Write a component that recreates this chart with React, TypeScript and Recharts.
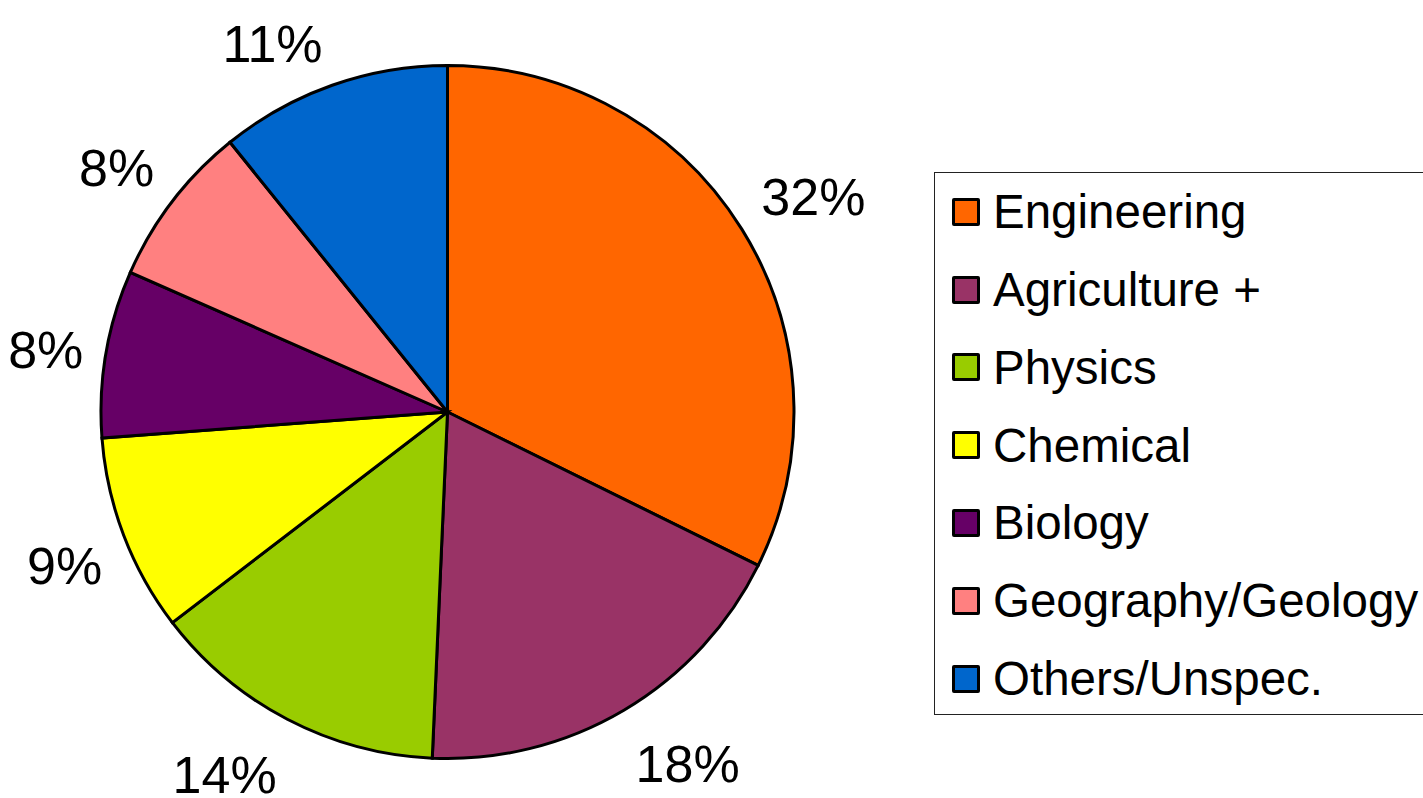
import React from "react";
import { PieChart, Pie, Cell, Legend } from "recharts";

const categories = [
  "Engineering",
  "Agriculture +",
  "Physics",
  "Chemical",
  "Biology",
  "Geography/Geology",
  "Others/Unspec.",
];
const shares = [32.3, 18.4, 13.9, 9.2, 7.8, 7.6, 10.8];
const colors = ["#FF6600", "#993366", "#99CC00", "#FFFF00", "#660066", "#FF8080", "#0066CC"];

const data = categories.map((name, i) => ({ name, value: shares[i], fill: colors[i] }));

const FONT = "'Liberation Sans', Arial, Helvetica, sans-serif";
const LABEL_SIZE = 52;
const RAD = Math.PI / 180;

// Outside labels aligned like an office-suite pie: the anchor point on the
// mid ray touches the text box corner facing the pie.
const renderLabel = (props: any) => {
  const { cx, cy, midAngle, outerRadius, percent } = props;
  const text = `${Math.round(percent * 100)}%`;
  const digits = text.length - 1;
  const w = LABEL_SIZE * (0.556 * digits + 0.889);
  const h = LABEL_SIZE * 0.75;
  const r = outerRadius + 23;
  const c = Math.cos(midAngle * RAD);
  const s = Math.sin(midAngle * RAD);
  const ax = cx + r * c;
  const ay = cy - r * s;
  const sx = Math.abs(c) < 0.2 ? 0 : Math.sign(c);
  const sy = Math.abs(s) < 0.2 ? 0 : -Math.sign(s);
  const extra = s < 0 ? 20 * s * s : 0;
  const x = ax + (sx * w) / 2;
  const y = ay + (sy * h) / 2 + extra;
  return (
    <text
      x={x}
      y={y}
      textAnchor="middle"
      dominantBaseline="central"
      fontFamily={FONT}
      fontSize={LABEL_SIZE}
      fill="#000"
    >
      {text}
    </text>
  );
};

const renderLegend = () => (
  <div
    style={{
      boxSizing: "border-box",
      width: 500,
      height: 543,
      border: "1px solid #222",
      background: "#fff",
      fontFamily: FONT,
    }}
  >
    {categories.map((c, i) => (
      <div key={c} style={{ height: 77.8, display: "flex", alignItems: "center" }}>
        <div
          style={{
            marginLeft: 17,
            width: 22,
            height: 22,
            border: "3px solid #000",
            borderRadius: 2,
            background: colors[i],
            flex: "none",
          }}
        />
        <span
          style={{
            marginLeft: 13,
            fontSize: 47.5,
            color: "#000",
            whiteSpace: "nowrap",
            lineHeight: 1,
          }}
        >
          {c}
        </span>
      </div>
    ))}
  </div>
);

export default function App() {
  return (
    <div
      style={{
        position: "absolute",
        left: 0,
        top: 0,
        width: 1423,
        height: 798,
        overflow: "hidden",
        background: "#fff",
      }}
    >
      <PieChart width={1423} height={798} margin={{ top: 0, right: 0, bottom: 0, left: 0 }}>
        <Pie
          data={data}
          dataKey="value"
          nameKey="name"
          cx={447.5}
          cy={412}
          outerRadius={346.5}
          startAngle={90}
          endAngle={-270}
          stroke="#000"
          strokeWidth={3}
          label={renderLabel}
          labelLine={false}
          isAnimationActive={false}
        >
          {data.map((d, i) => (
            <Cell key={d.name} fill={colors[i]} stroke="#000" strokeWidth={3} />
          ))}
        </Pie>
        <Legend
          content={renderLegend}
          wrapperStyle={{ position: "absolute", left: 934, top: 172, width: 500, height: 543 }}
        />
      </PieChart>
    </div>
  );
}
